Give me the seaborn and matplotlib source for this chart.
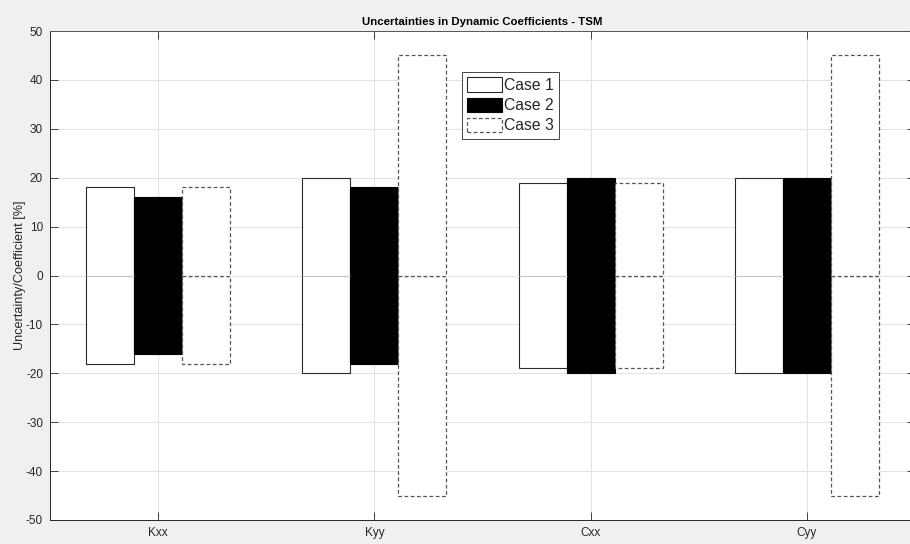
import matplotlib
matplotlib.use("Agg")
import matplotlib.pyplot as plt
import seaborn as sns
import pandas as pd

# Symmetric uncertainty bands (+/- percent) per dynamic coefficient
coefficients = ["Kxx", "Kyy", "Cxx", "Cyy"]
cases = ["Case 1", "Case 2", "Case 3"]
case1 = [18, 20, 19, 20]
case2 = [16, 18, 20, 20]
case3 = [18, 45, 19, 45]
yticks = list(range(-50, 51, 10))

sns.set_theme(style="white")
plt.rcParams["font.family"] = ["Liberation Sans", "DejaVu Sans"]

rows = []
for case, vals in zip(cases, [case1, case2, case3]):
    for coef, v in zip(coefficients, vals):
        rows.append({"coef": coef, "case": case, "upper": v, "lower": -v})
df = pd.DataFrame(rows)

fig = plt.figure(figsize=(9.10, 5.44), dpi=100, facecolor="#f0f0f0")
ax = fig.add_axes([50 / 910, 1 - 520 / 544, 865 / 910, 489 / 544])
ax.set_facecolor("white")

palette = {"Case 1": "white", "Case 2": "black", "Case 3": "white"}
# lower halves first, then upper halves
for col in ["lower", "upper"]:
    sns.barplot(data=df, x="coef", y=col, hue="case", hue_order=cases,
                order=coefficients, palette=palette, width=0.666, gap=0,
                saturation=1, legend=False, ax=ax, zorder=3)

edge_styles = [
    dict(edgecolor="#2b2b2b", linestyle="-", linewidth=0.8),
    dict(edgecolor="black", linestyle="-", linewidth=0.8),
    dict(edgecolor="#555555", linestyle=(0, (3, 2)), linewidth=0.9),
]
lower_conts = ax.containers[:3]
upper_conts = ax.containers[3:6]
for i in range(3):
    st = edge_styles[i]
    for lo, up in zip(lower_conts[i].patches, upper_conts[i].patches):
        for p in (lo, up):
            p.set_edgecolor(st["edgecolor"])
            p.set_linestyle(st["linestyle"])
            p.set_linewidth(st["linewidth"])
        if i < 2:
            # solid cases: one continuous bar spanning both halves
            y0 = min(lo.get_y(), lo.get_y() + lo.get_height())
            y1 = max(up.get_y(), up.get_y() + up.get_height())
            lo.set_y(y0)
            lo.set_height(y1 - y0)
            up.set_visible(False)
            if i == 0:
                # light baseline visible through the white bars
                ax.hlines(0, lo.get_x(), lo.get_x() + lo.get_width(),
                          color="#c4c4c4", linewidth=0.8, zorder=4)

ax.set_xlim(-0.5, 3.5)
ax.set_ylim(-50, 50)
ax.set_yticks(yticks)
ax.set_yticklabels([str(t) for t in yticks])
ax.grid(True, color="#e3e3e3", linewidth=0.8, zorder=0)
ax.set_axisbelow(True)
ax.tick_params(axis="both", which="both", direction="in", length=6, width=0.6,
               colors="#262626", labelsize=8.5, top=True, right=True,
               left=True, bottom=True, pad=5)
for s in ax.spines.values():
    s.set_color("#555555")
    s.set_linewidth(0.7)
ax.spines["left"].set_color("#262626")
ax.spines["bottom"].set_color("#262626")

ax.set_xlabel("")
ax.set_ylabel("Uncertainty/Coefficient [%]", fontsize=9.1, color="#262626", labelpad=0)
ax.set_title("Uncertainties in Dynamic Coefficients - TSM", fontsize=8.2,
             fontweight="bold", color="black", pad=4)

handles = [lower_conts[i] for i in range(3)]
leg = fig.legend(handles, cases, loc="upper left",
                 bbox_to_anchor=(462 / 910, 1 - 72 / 544),
                 bbox_transform=fig.transFigure, fontsize=11.3,
                 frameon=True, fancybox=False, framealpha=1,
                 edgecolor="#262626", facecolor="white",
                 handlelength=2.2, handleheight=1.0, handletextpad=0.1,
                 labelspacing=0.3, borderpad=0.35, borderaxespad=0)
leg.get_frame().set_linewidth(0.6)

fig.savefig("out.png", dpi=100, facecolor=fig.get_facecolor())
